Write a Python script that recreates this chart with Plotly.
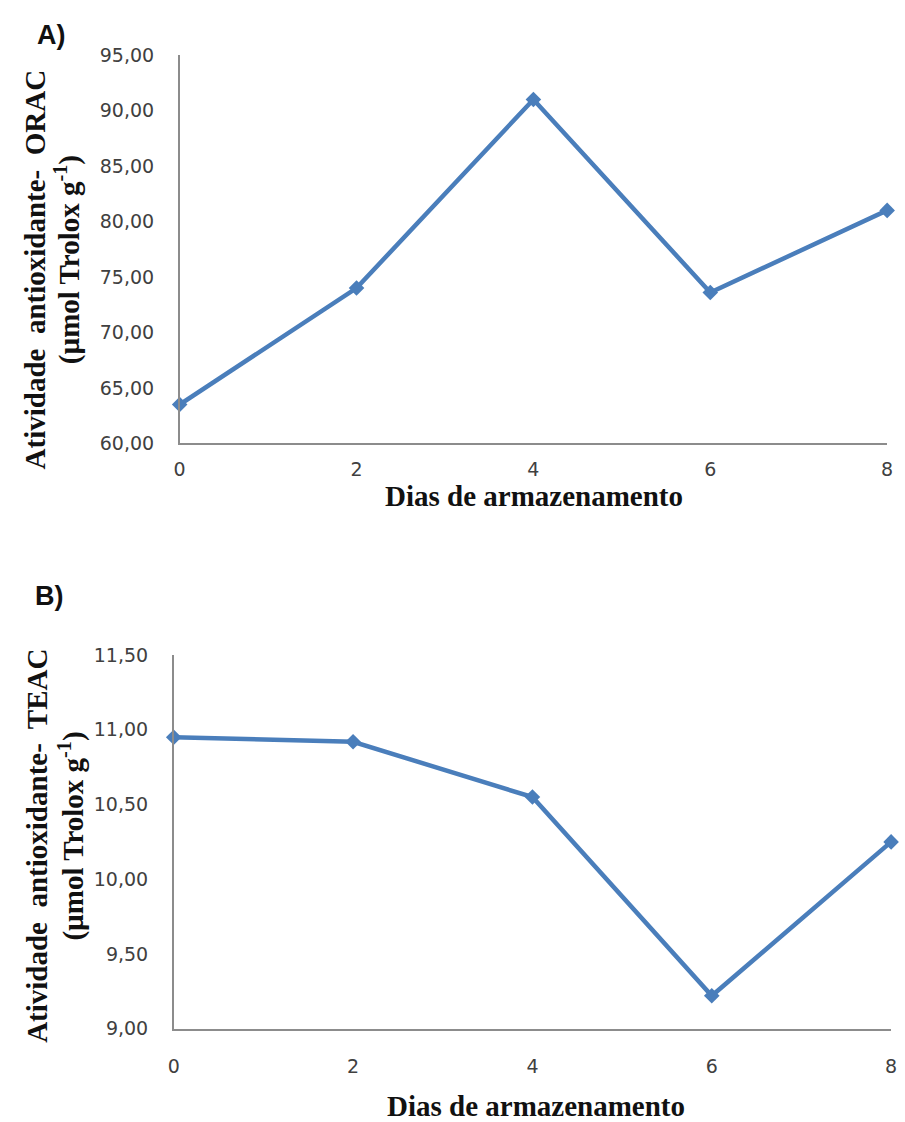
import plotly.graph_objects as go

days = [0, 2, 4, 6, 8]
orac = [63.5, 74.0, 91.0, 73.6, 81.0]
teac = [10.95, 10.92, 10.55, 9.22, 10.25]
x_ticks = [0, 2, 4, 6, 8]
orac_ticks = [60, 65, 70, 75, 80, 85, 90, 95]
teac_ticks = [9.0, 9.5, 10.0, 10.5, 11.0, 11.5]

W, H = 905, 1122
blue = "#4A7EBB"
axis_col = "#8C8C8C"
tick_font = dict(family="DejaVu Sans, sans-serif", size=19, color="#404040")
title_font = dict(family="Liberation Serif, serif", size=29, color="#111111")
lab_font = dict(family="Liberation Sans, Arial", size=27, color="#111111")

fig = go.Figure()
for xa, ya, vals in (("x", "y", orac), ("x2", "y2", teac)):
    fig.add_trace(go.Scatter(x=days, y=vals, mode="lines+markers", xaxis=xa, yaxis=ya,
                             line=dict(color=blue, width=4.5),
                             marker=dict(symbol="diamond", size=12, color=blue),
                             cliponaxis=False, showlegend=False))

def xax(dom, anchor, so):
    return dict(domain=dom, anchor=anchor, range=[0, 8], tickvals=x_ticks,
                showgrid=False, zeroline=False, showline=True, linecolor=axis_col,
                linewidth=1.5, ticks="", ticklabelstandoff=so, tickfont=tick_font)

def yax(dom, anchor, rng, tv):
    return dict(domain=dom, anchor=anchor, range=rng, tickvals=tv, tickformat=".2f",
                showgrid=False, zeroline=False, showline=True, linecolor=axis_col,
                linewidth=1.5, ticks="", ticklabelstandoff=20, tickfont=tick_font)

fig.update_layout(
    width=W, height=H, margin=dict(l=0, r=0, t=0, b=0),
    paper_bgcolor="white", plot_bgcolor="white", separators=",.",
    xaxis=xax([176 / W, 893 / W], "y", 8),
    yaxis=yax([1 - 441 / H, 1 - 45 / H], "x", [60, 95], orac_ticks),
    xaxis2=xax([170 / W, 897 / W], "y2", 20),
    yaxis2=yax([1 - 1038 / H, 1 - 657 / H], "x2", [9, 11.5], teac_ticks),
)

ann = [
    dict(x=46, y=24, text="<b>A)</b>", font=lab_font),
    dict(x=44, y=597, text="<b>B)</b>", font=lab_font),
    dict(x=535, y=495, text="<b>Dias de armazenamento</b>", font=title_font),
    dict(x=537, y=1117, text="<b>Dias de armazenamento</b>", font=title_font),
    dict(x=29, y=264, textangle=-90, text="<b>Atividade  antioxidante-  ORAC</b>", font=title_font),
    dict(x=62, y=254, textangle=-90, text="<b>(µmol Trolox g<sup>-1</sup>)</b>", font=title_font),
    dict(x=32, y=852, textangle=-90, text="<b>Atividade  antioxidante-  TEAC</b>", font=title_font),
    dict(x=66, y=842, textangle=-90, text="<b>(µmol Trolox g<sup>-1</sup>)</b>", font=title_font),
]
for a in ann:
    a.update(x=a["x"] / W, y=1 - a["y"] / H, xref="paper", yref="paper",
             showarrow=False, xanchor="center", yanchor="middle")
fig.update_layout(annotations=ann)

fig.write_html("out.html", config={"displayModeBar": False},
               post_script="document.body.style.margin='0';document.body.style.overflow='hidden';")
